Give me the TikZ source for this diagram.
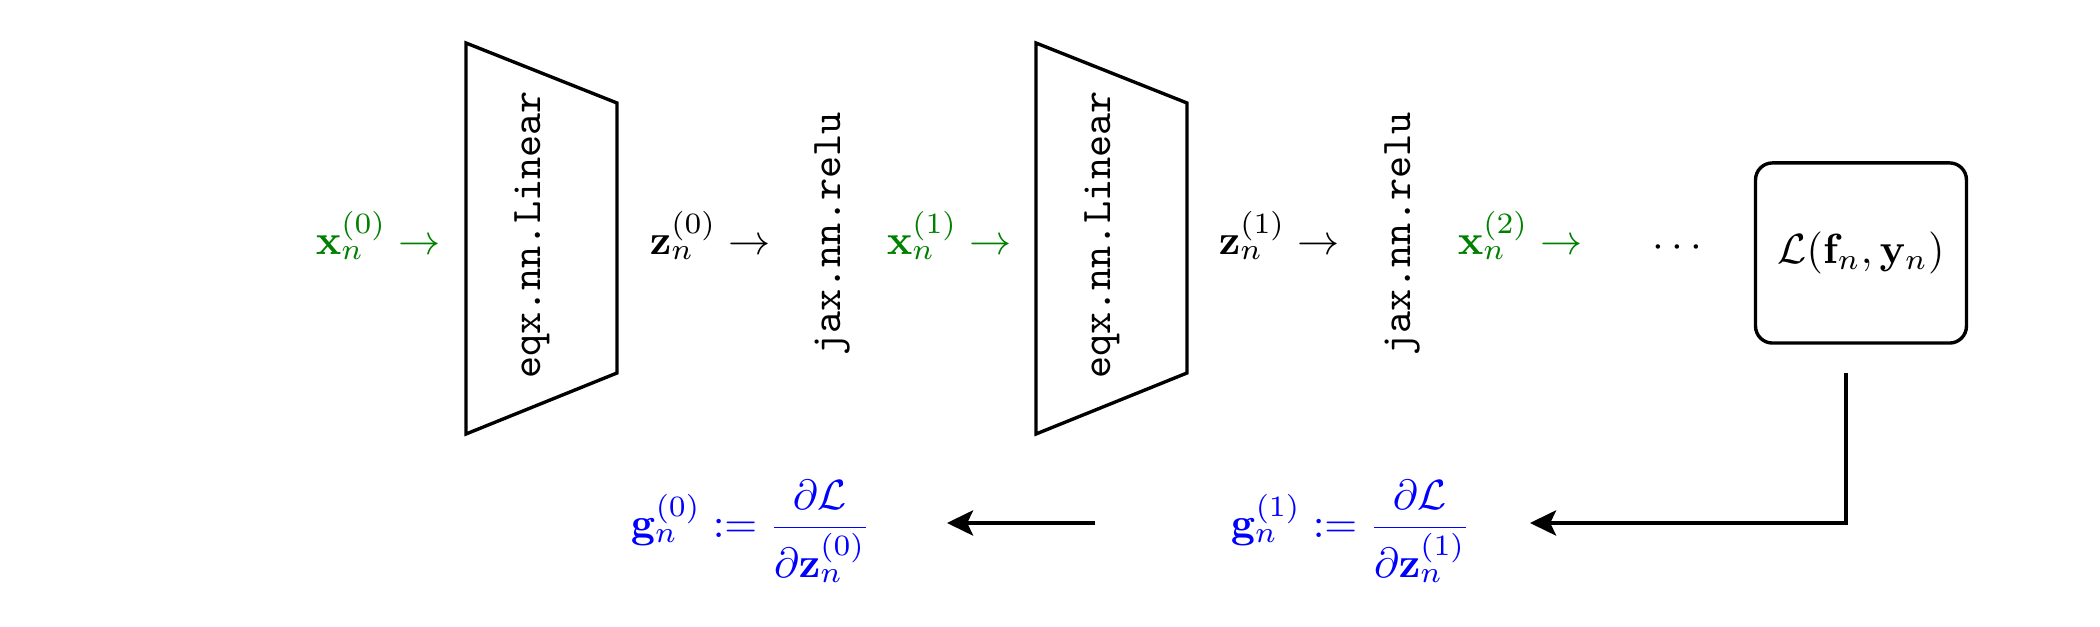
\documentclass[tikz,border=0pt]{standalone}
\usepackage{amsmath}
\usetikzlibrary{arrows.meta}
\definecolor{fwdgreen}{rgb}{0,0.5,0}
\definecolor{bwdblue}{rgb}{0,0,1}
\tikzset{
  lbl/.style={inner sep=0pt, anchor=base west},
  fwd/.style={lbl, text=fwdgreen},
  bwd/.style={lbl, text=bwdblue},
  vtext/.style={inner sep=0pt, anchor=base, rotate=90, font=\ttfamily},
  layerbox/.style={draw, line width=0.8pt, line join=miter},
  lossbox/.style={draw, line width=0.8pt, rounded corners=4pt, minimum width=50pt, minimum height=42.7pt, inner sep=0pt},
  conn/.style={draw, line width=0.8pt, -{Stealth[length=6.2pt, width=6pt, inset=1.4pt]}}
}
\begin{document}
\begin{tikzpicture}[x=0.0083333cm, y=-0.0083333cm]
\useasboundingbox (0,0) rectangle (2100,627);

% layer shapes
\coordinate (l0a) at (466,43);  \coordinate (l0b) at (617,103);
\coordinate (l0c) at (617,373); \coordinate (l0d) at (466,434);
\draw[layerbox] (l0a) -- (l0b) -- (l0c) -- (l0d) -- cycle;
\coordinate (l1a) at (1036,43);  \coordinate (l1b) at (1187,103);
\coordinate (l1c) at (1187,373); \coordinate (l1d) at (1036,434);
\draw[layerbox] (l1a) -- (l1b) -- (l1c) -- (l1d) -- cycle;

\node[vtext] (lin0) at (540,235) {eqx.nn.Linear};
\node[vtext] (lin1) at (1110,235) {eqx.nn.Linear};
\node[vtext] (relu0) at (840,234) {jax.nn.relu};
\node[vtext] (relu1) at (1410,234) {jax.nn.relu};

% forward labels
\node[fwd] (x0) at (315,255) {$\mathbf{x}_n^{(0)} \rightarrow$};
\node[lbl] (z0) at (649,255) {$\mathbf{z}_n^{(0)} \rightarrow$};
\node[fwd] (x1) at (886,255) {$\mathbf{x}_n^{(1)} \rightarrow$};
\node[lbl] (z1) at (1218,255) {$\mathbf{z}_n^{(1)} \rightarrow$};
\node[fwd] (x2) at (1457,255) {$\mathbf{x}_n^{(2)} \rightarrow$};
\node[inner sep=0pt, anchor=base] (dots) at (1681,258) {$\cdots$};

% loss
\node[lossbox] (loss) at (1861,253) {$\mathcal{L}(\mathbf{f}_n, \mathbf{y}_n)$};

% gradients
\node[bwd] (g0) at (630,538) {$\mathbf{g}_n^{(0)} \mathrel{:=} \dfrac{\partial \mathcal{L}}{\partial \mathbf{z}_n^{(0)}}$};
\node[bwd] (g1) at (1230,538) {$\mathbf{g}_n^{(1)} \mathrel{:=} \dfrac{\partial \mathcal{L}}{\partial \mathbf{z}_n^{(1)}}$};

% backward connectors
\coordinate (ls) at (1846,373);
\coordinate (lc) at (1846,523);
\coordinate (t1) at (1530,523);
\coordinate (s0) at (1095,523);
\coordinate (t0) at (947,523);
\draw[conn] (ls) -- (lc) -- (t1);
\draw[conn] (s0) -- (t0);
\end{tikzpicture}
\end{document}
